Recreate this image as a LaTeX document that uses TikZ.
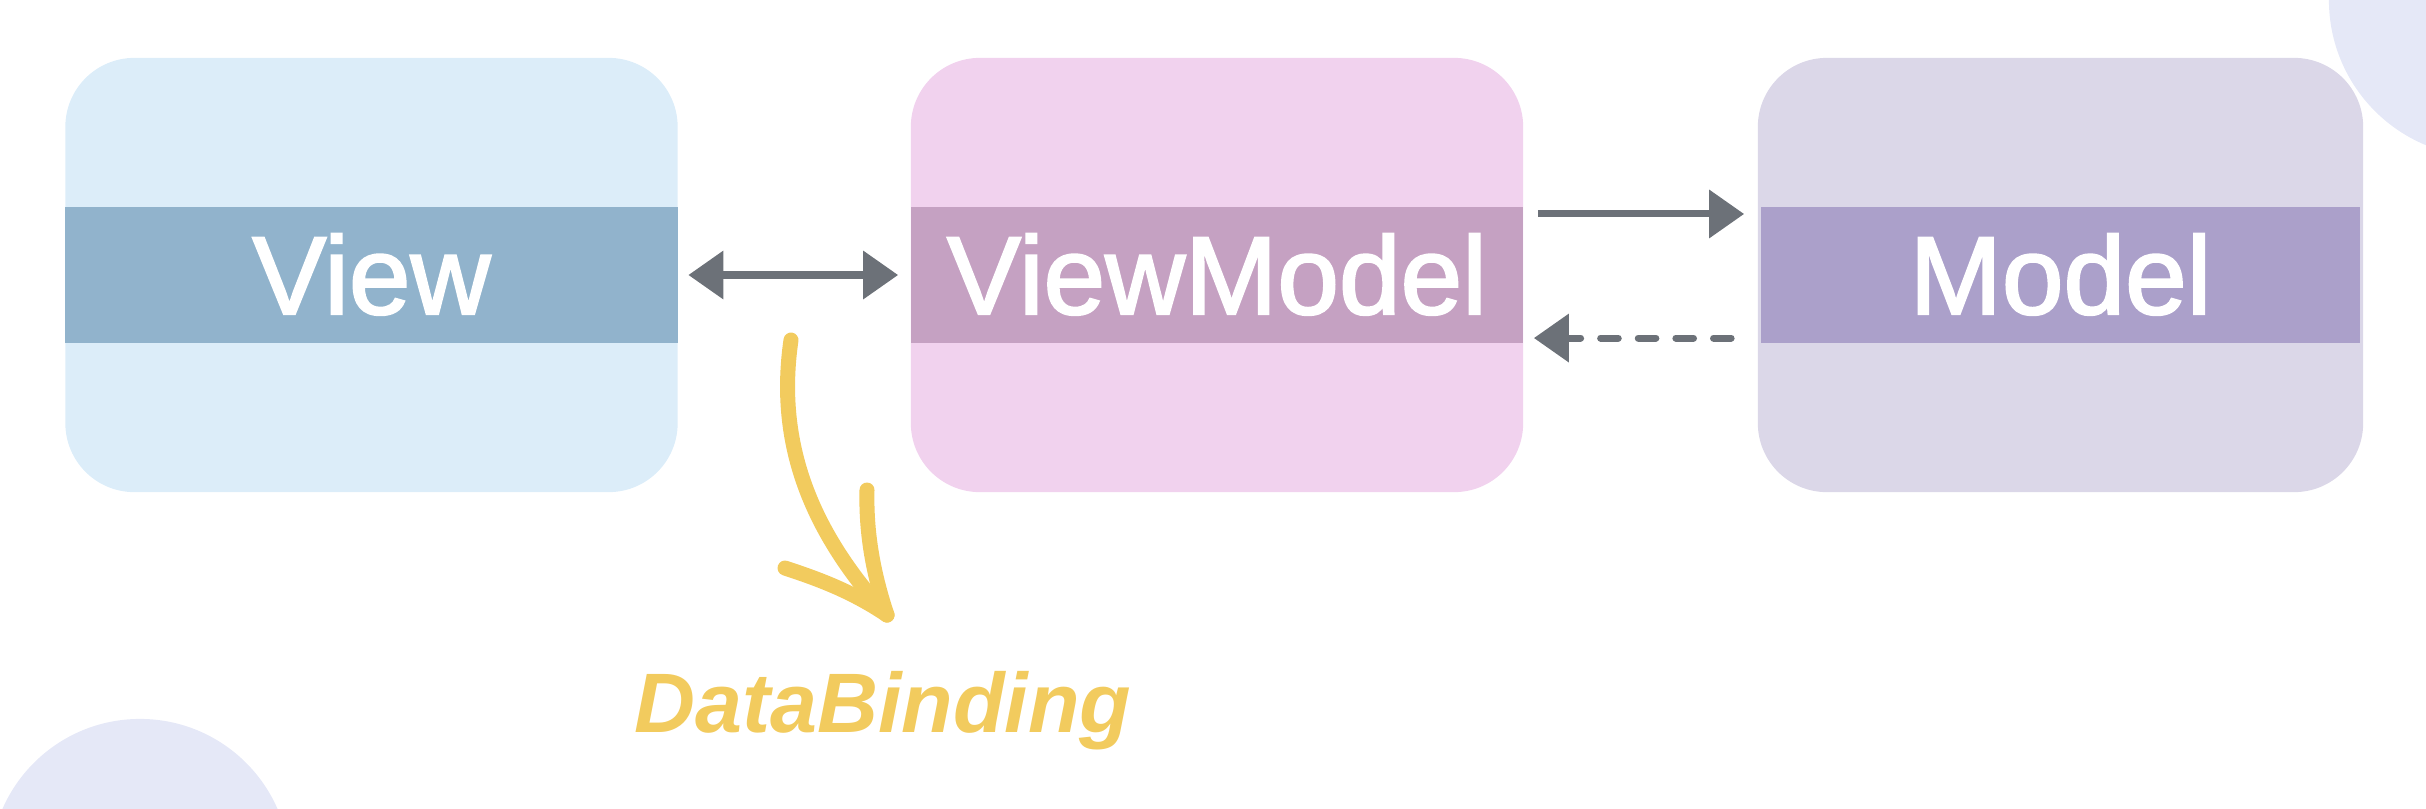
\documentclass[tikz,border=0pt]{standalone}
\usepackage{fontspec}
\setmainfont{Liberation Sans}
\newfontfamily\labelfont{Liberation Sans}[FakeBold=2]
\newfontfamily\bindfont{Liberation Sans}
\usetikzlibrary{arrows.meta}
\definecolor{viewbg}{HTML}{DCEDF9}
\definecolor{viewband}{HTML}{91B3CC}
\definecolor{vmbg}{HTML}{F1D2EE}
\definecolor{vmband}{HTML}{C5A1C2}
\definecolor{modelbg}{HTML}{DBD7E8}
\definecolor{modelband}{HTML}{ABA0CA}
\definecolor{arrowgray}{HTML}{6C7178}
\definecolor{bindyellow}{HTML}{F2CB5E}
\definecolor{blob}{HTML}{E5E8F7}
\begin{document}
\begin{tikzpicture}[x=0.01cm, y=-0.01cm,
    box/.style={rectangle, rounded corners=0.69cm, minimum width=6.12cm, minimum height=4.34cm, inner sep=0pt},
    band/.style={rectangle, minimum width=6.12cm, minimum height=1.35cm, inner sep=0pt, text=white,
      font=\labelfont\fontsize{31.5}{37}\selectfont, text height=0.78cm, text depth=0pt},
    conn/.style={draw=arrowgray, line width=2pt, arrows={-Triangle[length=0.35cm, width=0.47cm]}},
    hand/.style={draw=bindyellow, line width=0.15cm, line cap=round}]
    \useasboundingbox (0,0) rectangle (2426,808);
    \clip (0,0) rectangle (2426,808);
    % background blobs
    \fill [blob] (2486,0) circle [radius=1.57cm];
    \fill [blob] (140,869) circle [radius=1.5cm];
    % the three layers
    \node [box, fill=viewbg] (view) at (371.5,275) {};
    \node [band, fill=viewband] (viewlabel) at (view) {View};
    \node [box, fill=vmbg] (vm) at (1217,275) {};
    \node [band, fill=vmband] (vmlabel) at (vm) {ViewModel};
    \node [box, fill=modelbg, minimum width=6.05cm] (model) at (2060.5,275) {};
    \node [band, fill=modelband, minimum width=5.98cm] (modellabel) at (model) {Model};
    % connectors
    \draw [conn, arrows={Triangle[length=0.35cm, width=0.47cm]-Triangle[length=0.35cm, width=0.47cm]}, shorten <=0.1cm, shorten >=0.12cm] (view.east) -- (vm.west);
    \draw [conn, shorten <=0.14cm, shorten >=0.13cm] ([yshift=0.61cm]vm.east) -- ([yshift=0.61cm]model.west);
    \draw [conn, line cap=round, dash pattern=on 5pt off 5.7pt, shorten <=0.26cm, shorten >=0.1cm] ([yshift=-0.63cm]model.west) -- ([yshift=-0.63cm]vm.east);
    % data binding
    \coordinate (tip) at (887,615);
    \draw [hand] (791,340) .. controls (778,430) and (800,520) .. (tip);
    \draw [hand] (tip) .. controls (872,570) and (866,530) .. (867,490);
    \draw [hand] (tip) .. controls (850,590) and (815,578) .. (785,568);
    \node [text=bindyellow, font=\bindfont\fontsize{24}{29}\selectfont\bfseries\itshape, inner sep=0pt, anchor=base] (binding) at (883,732) {DataBinding};
\end{tikzpicture}
\end{document}
